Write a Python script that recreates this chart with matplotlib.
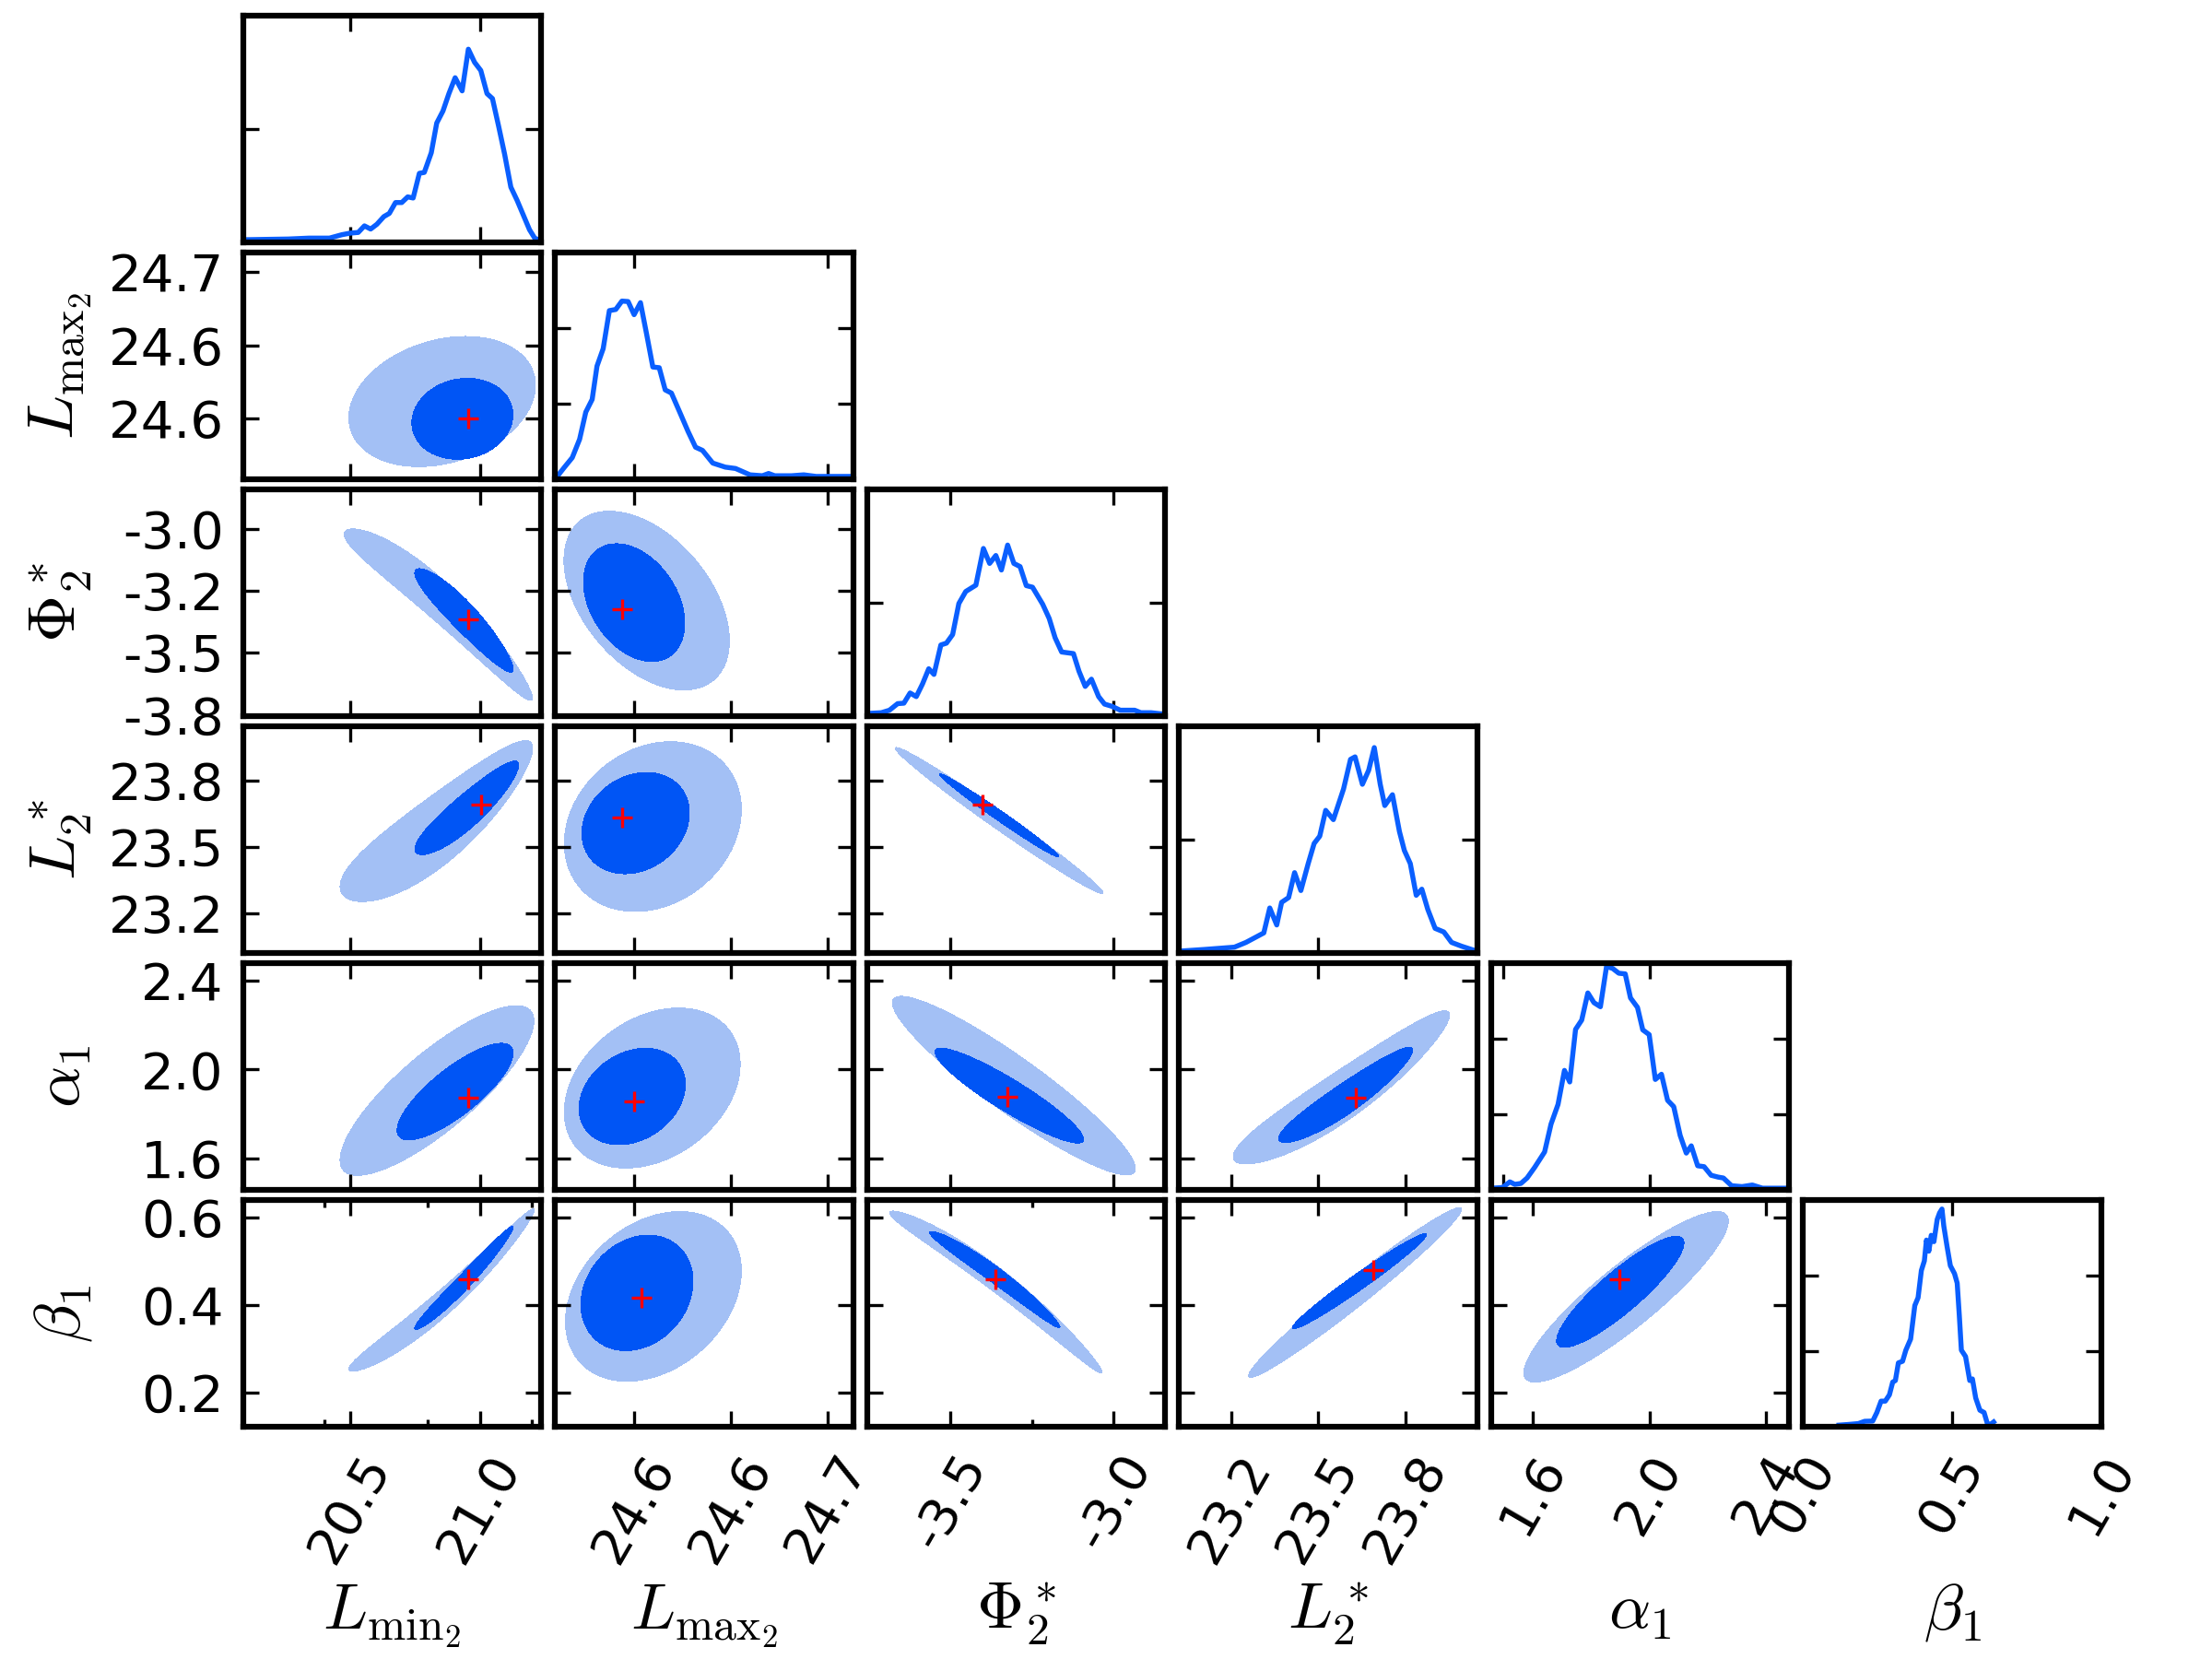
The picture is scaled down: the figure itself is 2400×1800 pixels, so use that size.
import numpy as np
import matplotlib
matplotlib.use("Agg")
import matplotlib.pyplot as plt

plt.rcParams['font.family'] = ['DejaVu Sans']
plt.rcParams['mathtext.fontset'] = 'cm'

# ---------------- data ----------------
param_labels = [r'$L_{\mathrm{min}_2}$', r'$L_{\mathrm{max}_2}$', r'$\Phi_2^*$',
                r'$L_2^*$', r'$\alpha_1$', r'$\beta_1$']
param_limits = [(20.086, 21.238), (24.559, 24.7135), (-3.754, -2.842),
                (23.101, 23.955), (1.457, 2.479), (0.121, 0.639)]
beta_diag_limits = (0.0, 1.0)

# ticks used when a parameter is on the x axis of a 2D panel
xticks_2d = [[20.5, 21.0], [24.6, 24.65, 24.7], [-3.5, -3.0],
             [23.25, 23.5, 23.75], [1.6, 2.0, 2.4], [0.0, 0.5, 1.0]]
xticklabels_2d = [['20.5', '21.0'], ['24.6', '24.6', '24.7'], ['-3.5', '-3.0'],
                  ['23.2', '23.5', '23.8'], ['1.6', '2.0', '2.4'], ['0.0', '0.5', '1.0']]
# ticks used when a parameter is on the y axis
yticks_2d = [[], [24.6, 24.65, 24.7], [-3.75, -3.5, -3.25, -3.0],
             [23.25, 23.5, 23.75], [1.6, 2.0, 2.4], [0.2, 0.4, 0.6]]
yticklabels_2d = [[], ['24.6', '24.6', '24.7'], ['-3.8', '-3.5', '-3.2', '-3.0'],
                  ['23.2', '23.5', '23.8'], ['1.6', '2.0', '2.4'], ['0.2', '0.4', '0.6']]
diag_xticks = [[20.5, 21.0], [24.6, 24.7], [-3.5, -3.0], [23.5], [1.5, 2.0], [0.0, 0.5, 1.0]]
diag_yticks = [[0.5], [1/3, 2/3], [0.5], [0.5], [1/3, 2/3], [1/3, 2/3]]
bottom_minor_ticks = {0: [20.4, 20.8, 21.2], 2: [-3.25]}

# 1D marginals (value, height as fraction of panel)
lmin2_x = [20.094, 20.261, 20.341, 20.42, 20.468, 20.50, 20.531, 20.555, 20.579, 20.603,
           20.63, 20.651, 20.675, 20.699, 20.722, 20.743, 20.767, 20.786, 20.813, 20.834,
           20.858, 20.881, 20.905, 20.932, 20.956, 20.98, 21.004, 21.028, 21.049, 21.073,
           21.096, 21.12, 21.144, 21.168, 21.192, 21.212, 21.231]
lmin2_y = [0.01, 0.013, 0.017, 0.017, 0.032, 0.039, 0.042, 0.071, 0.057, 0.078,
           0.112, 0.126, 0.174, 0.174, 0.199, 0.194, 0.303, 0.307, 0.394, 0.525,
           0.578, 0.655, 0.725, 0.667, 0.851, 0.793, 0.757, 0.655, 0.633, 0.51,
           0.387, 0.242, 0.184, 0.119, 0.054, 0.017, 0.007]
lmax2_x = [24.5605, 24.5637, 24.568, 24.5718, 24.575, 24.5783, 24.5808, 24.584, 24.5872,
           24.5905, 24.5937, 24.5969, 24.60, 24.6033, 24.6065, 24.6097, 24.613, 24.6161,
           24.6193, 24.6236, 24.6279, 24.6318, 24.6354, 24.6407, 24.6472, 24.6525, 24.66,
           24.6664, 24.6696, 24.6728, 24.6814, 24.6878, 24.6942, 24.7124]
lmax2_y = [0.014, 0.049, 0.094, 0.175, 0.295, 0.351, 0.498, 0.575, 0.743,
           0.748, 0.785, 0.783, 0.725, 0.778, 0.638, 0.494, 0.491, 0.393,
           0.379, 0.295, 0.21, 0.14, 0.126, 0.07, 0.052, 0.046, 0.018,
           0.014, 0.024, 0.014, 0.014, 0.018, 0.011, 0.011]
phi_x = [-3.748, -3.710, -3.685, -3.660, -3.641, -3.622, -3.603, -3.584, -3.565, -3.549,
         -3.528, -3.511, -3.492, -3.473, -3.452, -3.421, -3.398, -3.379, -3.36, -3.343,
         -3.324, -3.305, -3.286, -3.267, -3.248, -3.217, -3.197, -3.179, -3.159, -3.123,
         -3.106, -3.087, -3.068, -3.046, -3.028, -3.005, -2.98, -2.936, -2.917, -2.886, -2.848]
phi_y = [0.011, 0.014, 0.025, 0.054, 0.056, 0.101, 0.085, 0.141, 0.208, 0.183,
         0.313, 0.321, 0.359, 0.496, 0.549, 0.577, 0.739, 0.673, 0.708, 0.644,
         0.754, 0.673, 0.659, 0.575, 0.568, 0.493, 0.430, 0.345, 0.282, 0.275,
         0.197, 0.130, 0.162, 0.085, 0.052, 0.042, 0.025, 0.025, 0.014, 0.014, 0.008]
l2_x = [23.108, 23.175, 23.26, 23.293, 23.344, 23.361, 23.381, 23.395, 23.415, 23.432,
        23.45, 23.471, 23.488, 23.504, 23.521, 23.543, 23.572, 23.592, 23.605, 23.626,
        23.644, 23.66, 23.677, 23.69, 23.712, 23.732, 23.746, 23.763, 23.78, 23.796,
        23.813, 23.834, 23.859, 23.881, 23.91, 23.952]
l2_y = [0.008, 0.015, 0.025, 0.046, 0.088, 0.198, 0.123, 0.223, 0.244, 0.354,
        0.275, 0.394, 0.483, 0.515, 0.629, 0.588, 0.723, 0.854, 0.865, 0.744,
        0.806, 0.906, 0.744, 0.65, 0.698, 0.535, 0.452, 0.394, 0.254, 0.281,
        0.192, 0.108, 0.092, 0.046, 0.029, 0.008]
alpha_x = [1.461, 1.497, 1.522, 1.539, 1.56, 1.581, 1.607, 1.641, 1.663, 1.687,
           1.709, 1.727, 1.747, 1.768, 1.789, 1.81, 1.832, 1.853, 1.874, 1.895,
           1.917, 1.935, 1.959, 1.977, 1.999, 2.02, 2.041, 2.062, 2.083, 2.105,
           2.126, 2.143, 2.165, 2.187, 2.211, 2.235, 2.253, 2.281, 2.317, 2.352,
           2.387, 2.472]
alpha_y = [0.007, 0.01, 0.035, 0.024, 0.028, 0.052, 0.099, 0.167, 0.29, 0.377,
           0.527, 0.476, 0.708, 0.749, 0.869, 0.826, 0.808, 0.986, 0.977, 0.956,
           0.953, 0.847, 0.805, 0.706, 0.685, 0.487, 0.51, 0.395, 0.367, 0.24,
           0.162, 0.194, 0.106, 0.102, 0.064, 0.056, 0.052, 0.018, 0.014, 0.021,
           0.007, 0.007]
beta_x = [0.121, 0.152, 0.186, 0.207, 0.234, 0.248, 0.262, 0.276, 0.29, 0.301,
          0.31, 0.32, 0.334, 0.345, 0.361, 0.375, 0.386, 0.397, 0.407, 0.414,
          0.422, 0.43, 0.439, 0.45, 0.458, 0.466, 0.472, 0.483, 0.494, 0.508,
          0.517, 0.524, 0.531, 0.545, 0.559, 0.568, 0.579, 0.593, 0.607, 0.618,
          0.629, 0.639]
beta_y = [0.007, 0.01, 0.014, 0.024, 0.025, 0.063, 0.113, 0.113, 0.141, 0.197,
          0.204, 0.282, 0.289, 0.338, 0.387, 0.535, 0.570, 0.69, 0.732, 0.824,
          0.775, 0.845, 0.817, 0.915, 0.944, 0.961, 0.887, 0.796, 0.711, 0.676,
          0.634, 0.493, 0.338, 0.31, 0.204, 0.211, 0.127, 0.073, 0.063, 0.014,
          0.011, 0.021]
hist_x = [lmin2_x, lmax2_x, phi_x, l2_x, alpha_x, beta_x]
hist_y = [lmin2_y, lmax2_y, phi_y, l2_y, alpha_y, beta_y]

# 2D credible regions: (row, col), region = (centre x, centre y, half-width x, half-height y, correlation)
pair_index = [(1, 0), (2, 0), (3, 0), (4, 0), (5, 0),
              (2, 1), (3, 1), (4, 1), (5, 1),
              (3, 2), (4, 2), (5, 2),
              (4, 3), (5, 3),
              (5, 4)]
outer_region = [(20.855, 24.6118, 0.36, 0.0444, 0.25),
                (20.84, -3.286, 0.363, 0.343, -0.96),
                (20.8325, 23.558, 0.3715, 0.30, 0.87),
                (20.835, 1.905, 0.374, 0.383, 0.82),
                (20.853, 0.4017, 0.358, 0.1853, 0.982),
                (24.6065, -3.29, 0.0428, 0.36, -0.45),
                (24.6097, 23.577, 0.0458, 0.32, 0.2),
                (24.6094, 1.916, 0.0455, 0.361, 0.3),
                (24.61, 0.419, 0.0455, 0.194, 0.3),
                (-3.35, 23.60, 0.3175, 0.2755, -0.99),
                (-3.305, 1.927, 0.371, 0.403, -0.927),
                (-3.36, 0.4585, 0.3245, 0.185, -0.985),
                (23.566, 1.878, 0.3095, 0.344, 0.93),
                (23.605, 0.428, 0.3045, 0.194, 0.98),
                (1.92, 0.418, 0.35, 0.195, 0.89)]
inner_region = [(20.933, 24.600, 0.195, 0.0276, 0.10),
                (20.939, -3.354, 0.19, 0.208, -0.93),
                (20.95, 23.635, 0.20, 0.176, 0.90),
                (20.905, 1.90, 0.224, 0.218, 0.80),
                (20.939, 0.4526, 0.19, 0.118, 0.98),
                (24.600, -3.298, 0.0262, 0.237, -0.35),
                (24.6008, 23.59, 0.0278, 0.191, 0.2),
                (24.599, 1.878, 0.0275, 0.2175, 0.25),
                (24.6015, 0.427, 0.029, 0.132, 0.2),
                (-3.35, 23.619, 0.1825, 0.157, -0.99),
                (-3.319, 1.882, 0.227, 0.214, -0.92),
                (-3.363, 0.4685, 0.199, 0.11, -0.98),
                (23.578, 1.869, 0.1915, 0.2145, 0.93),
                (23.618, 0.454, 0.192, 0.109, 0.98),
                (1.90, 0.4295, 0.218, 0.127, 0.88)]
region_bend = [0.0, -0.5, 0.385, 0.0, 0.26,
               0.0, 0.0, 0.0, 0.0,
               0.0, 0.0, -0.29,
               0.5, 0.0,
               0.0]
best_point = [(20.957, 24.600), (20.954, -3.365), (21.004, 23.660), (20.954, 1.874),
              (20.955, 0.4587), (24.5939, -3.323), (24.5938, 23.612), (24.600, 1.857),
              (24.6036, 0.4165), (-3.3996, 23.660), (-3.324, 1.878), (-3.361, 0.459),
              (23.606, 1.874), (23.657, 0.480), (1.897, 0.4586)]

# ---------------- style ----------------
line_color = '#0a5fff'
dark_color = '#0055f5'
light_color = '#a3c0f5'
tick_size = 13.5
label_size = 17

fig, axes = plt.subplots(6, 6, figsize=(8, 6), dpi=300)
fig.subplots_adjust(left=0.1098, right=0.950, bottom=0.14, top=0.9907,
                    wspace=0.045, hspace=0.046)

n = 6


def style_axis(ax):
    for s in ax.spines.values():
        s.set_linewidth(1.5)
    ax.tick_params(which='both', direction='in', top=True, right=True,
                   width=0.8, labelsize=tick_size, pad=5)
    ax.tick_params(which='major', length=4)
    ax.tick_params(which='minor', length=2)


def region_field(X, Y, shape, k):
    cx, cy, sx, sy, rho = shape
    u = (X - cx) / sx
    v = (Y - cy - k * (X - cx) ** 2) / sy
    return (u * u - 2 * rho * u * v + v * v) / (1 - rho * rho)


for i in range(n):
    for j in range(n):
        ax = axes[i, j]
        if j > i:
            ax.set_visible(False)
            continue
        style_axis(ax)
        if i == j:
            ax.plot(hist_x[i], hist_y[i], color=line_color, lw=1.3)
            xl = beta_diag_limits if i == 5 else param_limits[i]
            ax.set_xlim(xl)
            ax.set_ylim(0, 1)
            ax.set_xticks(diag_xticks[i])
            ax.set_yticks(diag_yticks[i])
            ax.set_yticklabels([])
            if i == n - 1:
                ax.set_xticklabels(xticklabels_2d[i])
            else:
                ax.set_xticklabels([])
        else:
            p = pair_index.index((i, j))
            xl = param_limits[j]
            yl = param_limits[i]
            gx = np.linspace(xl[0], xl[1], 500)
            gy = np.linspace(yl[0], yl[1], 500)
            X, Y = np.meshgrid(gx, gy)
            d_out = region_field(X, Y, outer_region[p], region_bend[p])
            d_in = region_field(X, Y, inner_region[p], region_bend[p])
            ax.contourf(X, Y, d_out, levels=[0, 1], colors=[light_color])
            ax.contourf(X, Y, d_in, levels=[0, 1], colors=[dark_color])
            ax.plot(best_point[p][0], best_point[p][1], '+', color='red',
                    ms=5.5, mew=0.8)
            ax.set_xlim(xl)
            ax.set_ylim(yl)
            ax.set_xticks(xticks_2d[j])
            ax.set_yticks(yticks_2d[i])
            if i == n - 1:
                ax.set_xticklabels(xticklabels_2d[j])
                if j in bottom_minor_ticks:
                    ax.set_xticks(bottom_minor_ticks[j], minor=True)
            else:
                ax.set_xticklabels([])
            if j == 0:
                ax.set_yticklabels(yticklabels_2d[i])
                ax.set_ylabel(param_labels[i], fontsize=label_size)
                ax.yaxis.set_label_coords(-0.5, 0.5)
            else:
                ax.set_yticklabels([])
        if i == n - 1:
            for lab in ax.get_xticklabels():
                lab.set_rotation(60)
            ax.set_xlabel(param_labels[j], fontsize=label_size)
            ax.xaxis.label.set_va('baseline')
            ax.xaxis.set_label_coords(0.5, -0.892)

fig.savefig('out.png', dpi=300)
